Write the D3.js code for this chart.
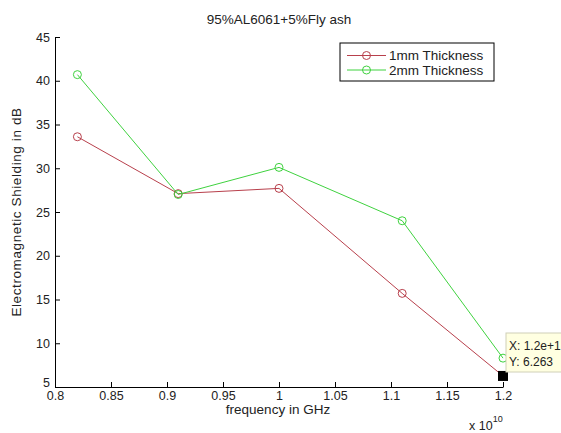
<!DOCTYPE html>
<html>
<head>
<meta charset="utf-8">
<script src="https://cdn.jsdelivr.net/npm/d3@7"></script>
<style>
  body { margin: 0; background: #fff; }
  text { font-family: "Liberation Sans", Arial, sans-serif; fill: #222; }
</style>
</head>
<body>
<svg id="chart" width="561" height="433"></svg>
<script>
// data (x in units of 1e10 Hz)
const freq = [0.82, 0.91, 1.0, 1.11, 1.2];
const shield1mm = [33.6, 27.1, 27.7, 15.7, 6.263];
const shield2mm = [40.7, 27.0, 30.1, 24.0, 8.3];
const seriesNames = ['1mm Thickness', '2mm Thickness'];
const seriesColors = ['#b8404c', '#3fd23f'];
const xTicks = [0.8, 0.85, 0.9, 0.95, 1, 1.05, 1.1, 1.15, 1.2];
const yTicks = [5, 10, 15, 20, 25, 30, 35, 40, 45];

const svg = d3.select('#chart');
const x = d3.scaleLinear().domain([0.8, 1.2]).range([55, 503]);
const y = d3.scaleLinear().domain([5, 45]).range([387, 37]);

// axes, ticks pointing inward like matlab
const xAxis = svg.append('g')
  .attr('transform', 'translate(0,' + y(5) + ')')
  .call(d3.axisBottom(x).tickValues(xTicks).tickSizeInner(-5).tickSizeOuter(0)
    .tickFormat(d3.format('~g')));
xAxis.selectAll('text').attr('y', 4).attr('dy', '0.71em').attr('font-size', 12.5);

const yAxis = svg.append('g')
  .attr('transform', 'translate(' + x(0.8) + ',0)')
  .call(d3.axisLeft(y).tickValues(yTicks).tickSizeInner(-5).tickSizeOuter(0));
yAxis.selectAll('text').attr('x', -5).attr('font-size', 12.5)
  .attr('dy', function(d) { return d === 5 ? '-0.05em' : '0.32em'; });

svg.selectAll('.domain, .tick line').attr('stroke', '#000');

// title and labels
svg.append('text').attr('x', 279).attr('y', 24).attr('text-anchor', 'middle')
  .attr('font-size', 13.5).text('95%AL6061+5%Fly ash');
svg.append('text').attr('x', 278).attr('y', 414).attr('text-anchor', 'middle')
  .attr('font-size', 13.5).text('frequency in GHz');
svg.append('text')
  .attr('transform', 'translate(21,' + (y(25)) + ') rotate(-90)')
  .attr('text-anchor', 'middle').attr('font-size', 13.5).attr('letter-spacing', 0.6)
  .text('Electromagnetic Shielding in dB');

const mult = svg.append('text').attr('x', 469).attr('y', 430).attr('font-size', 12.5);
mult.append('tspan').text('x 10');
mult.append('tspan').attr('dy', -8).attr('font-size', 9).text('10');

// lines and circle markers
const line = d3.line().x(function(d, i) { return x(freq[i]); }).y(function(d) { return y(d); });
[shield1mm, shield2mm].forEach(function(vals, k) {
  svg.append('path').attr('d', line(vals)).attr('fill', 'none')
    .attr('stroke', seriesColors[k]).attr('stroke-width', 1);
  svg.selectAll('circle.s' + k).data(vals).enter().append('circle')
    .attr('class', 's' + k)
    .attr('cx', function(d, i) { return x(freq[i]); })
    .attr('cy', function(d) { return y(d); })
    .attr('r', 4).attr('fill', 'none')
    .attr('stroke', seriesColors[k]).attr('stroke-width', 1);
});

// legend
const legend = svg.append('g');
legend.append('rect').attr('x', 340).attr('y', 43).attr('width', 154).attr('height', 38)
  .attr('fill', '#fff').attr('stroke', '#000');
seriesNames.forEach(function(name, k) {
  const ly = 55.5 + k * 14.5;
  legend.append('line').attr('x1', 347).attr('x2', 386).attr('y1', ly).attr('y2', ly)
    .attr('stroke', seriesColors[k]);
  legend.append('circle').attr('cx', 366.5).attr('cy', ly).attr('r', 4)
    .attr('fill', 'none').attr('stroke', seriesColors[k]);
  legend.append('text').attr('x', 389).attr('y', ly).attr('dy', '0.35em')
    .attr('font-size', 13.5).text(name);
});

// data tip on the last 1mm point (the picture cuts it at the right edge)
const tipX = x(freq[4]);
const tipY = y(shield1mm[4]);
svg.append('rect').attr('x', tipX - 5).attr('y', tipY - 5).attr('width', 10).attr('height', 10)
  .attr('fill', '#000');
svg.append('rect').attr('x', 506).attr('y', 333).attr('width', 60).attr('height', 39)
  .attr('fill', '#ffffe1').attr('stroke', '#d0d0b8');
svg.append('text').attr('x', 509).attr('y', 350).attr('font-size', 12)
  .text('X: 1.2e+1');
svg.append('text').attr('x', 509).attr('y', 366).attr('font-size', 12)
  .text('Y: ' + shield1mm[4]);
</script>
</body>
</html>
